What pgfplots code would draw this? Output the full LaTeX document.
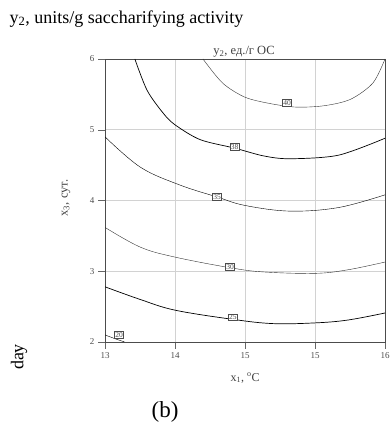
\documentclass[border=0pt]{standalone}
\usepackage{pgfplots}
\pgfplotsset{compat=1.18}
\usepackage{fontspec}
\setmainfont{Liberation Serif}
\begin{document}
\begin{tikzpicture}[x=1pt,y=1pt]
\path[use as bounding box] (0,0) rectangle (389,428);
\begin{axis}[
  at={(105pt,86pt)}, anchor=south west,
  width=280pt, height=283pt, scale only axis,
  xmin=13, xmax=16, ymin=2, ymax=6,
  xtick={13,13.75,14.5,15.25,16}, xticklabels={13,14,15,15,16},
  ytick={2,3,4,5,6},
  tick align=outside, tick pos=left,
  major tick length=7pt,
  grid=major, grid style={gray!35, line width=0.6pt},
  axis line style={black!70, line width=0.8pt},
  tick style={black!60},
  ticklabel style={font=\fontsize{9}{10}\selectfont, text=black!70},
  /pgf/number format/assume math mode=true,
  clip=true,
  cycle list={{black!80, line width=0.7pt, mark=none}},
]
\addplot+[smooth, tension=0.5] coordinates {(14.05,6.0) (14.26,5.66) (14.5,5.46) (14.77,5.37) (15.05,5.32) (15.35,5.34) (15.63,5.43) (15.87,5.66) (16.0,6.0)};
\addplot+[smooth, tension=0.5] coordinates {(13.32,6.0) (13.45,5.56) (13.62,5.24) (13.75,5.07) (14.02,4.86) (14.39,4.74) (14.7,4.63) (14.98,4.59) (15.5,4.64) (16.0,4.88)};
\addplot+[smooth, tension=0.6] coordinates {(13.0,4.90) (13.38,4.47) (13.8,4.22) (14.2,4.05) (14.5,3.93) (14.98,3.85) (15.5,3.9) (16.0,4.08)};
\addplot+[smooth, tension=0.6] coordinates {(13.0,3.62) (13.38,3.34) (13.75,3.20) (14.34,3.05) (14.7,2.99) (15.25,2.97) (15.6,3.02) (16.0,3.13)};
\addplot+[smooth, tension=0.6] coordinates {(13.0,2.78) (13.38,2.60) (13.75,2.45) (14.37,2.32) (14.8,2.26) (15.25,2.27) (15.6,2.31) (16.0,2.41)};
\addplot+[smooth] coordinates {(13.0,2.10) (13.1,2.05) (13.21,2.0)};
\tikzset{lab/.style={draw=black!70, fill=white, inner sep=0.8pt, font=\fontsize{7.5}{8}\selectfont, text=black!70}}
\node[lab] at (axis cs:14.95,5.38) {40};
\node[lab] at (axis cs:14.39,4.76) {38};
\node[lab] at (axis cs:14.2,4.05) {35};
\node[lab] at (axis cs:14.34,3.06) {30};
\node[lab] at (axis cs:14.37,2.35) {25};
\node[lab] at (axis cs:13.15,2.10) {20};
\end{axis}
\node[anchor=west, font=\fontsize{18}{20}\selectfont] at (6,409) {y\textsubscript{2}, units/g saccharifying activity};
\node[font=\fontsize{12.5}{14}\selectfont, text=black!75] at (244,376) {y\textsubscript{2}, ед./г ОС};
\node[rotate=90, font=\fontsize{12.5}{14}\selectfont, text=black!75] at (66,230) {x\textsubscript{3}, сут.};
\node[font=\fontsize{12}{14}\selectfont, text=black!75] at (245,50) {x\textsubscript{1}, \textsuperscript{o}C};
\node[rotate=90, font=\fontsize{18}{20}\selectfont] at (19,71) {day};
\node[font=\fontsize{23}{26}\selectfont] at (165,16) {(b)};
\end{tikzpicture}
\end{document}
